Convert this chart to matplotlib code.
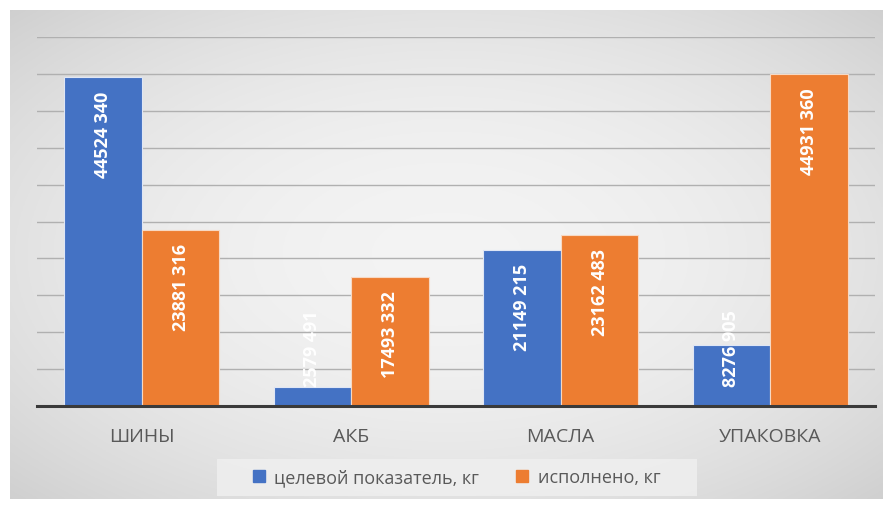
import numpy as np
import matplotlib
matplotlib.use("Agg")
import matplotlib.pyplot as plt
from matplotlib.lines import Line2D
from matplotlib.patches import Rectangle

plt.rcParams["font.family"] = ["Open Sans", "DejaVu Sans"]

# данные
categories = ["ШИНЫ", "АКБ", "МАСЛА", "УПАКОВКА"]
target = [44524340, 2579491, 21149215, 8276905]
done = [23881316, 17493332, 23162483, 44931360]
series_names = ["целевой показатель, кг", "исполнено, кг"]
colors = ["#4472C4", "#ED7D31"]

W, H = 891, 510
fig = plt.figure(figsize=(W / 100, H / 100), dpi=100)
fig.patch.set_facecolor("white")

# серый фон с радиальным градиентом
bg = fig.add_axes([10 / W, 10 / H, 873 / W, 489 / H])
xx, yy = np.meshgrid(np.linspace(-1, 1, 400), np.linspace(-1, 1, 300))
r = np.sqrt(xx ** 2 + yy ** 2) / np.sqrt(2)
shade = 0.955 - 0.14 * r ** 2
bg.imshow(np.dstack([shade] * 3), aspect="auto", extent=[0, 1, 0, 1])
bg.axis("off")

ax = fig.add_axes([37 / W, (H - 407) / H, (875 - 37) / W, (407 - 38) / H])
ax.set_facecolor("none")

x = np.arange(len(categories))
bw = 0.37
for i, (vals, c) in enumerate(zip([target, done], colors)):
    pos = x + (i - 0.5) * bw
    ax.bar(pos, vals, width=bw, color=c, edgecolor="#dfe6f5" if i == 0 else "#f7d9c4",
           linewidth=0.8, zorder=3)
    for xp, v in zip(pos, vals):
        txt = f"{v // 1000} {v % 1000:03d}"
        if v > 15e6:
            ax.text(xp, v - 1.75e6, txt, rotation=90, ha="center", va="top",
                    color="white", fontsize=13, fontweight="bold", zorder=4)
        else:
            ax.text(xp, 2.7e6, txt, rotation=90, ha="center", va="bottom",
                    color="white", fontsize=13, fontweight="bold", zorder=4)

ax.set_xlim(-0.5, len(categories) - 0.5)
ax.set_ylim(0, 50e6)
ax.set_yticks(np.arange(0, 50e6 + 1, 5e6))
ax.yaxis.grid(True, color="#b0b0b0", linewidth=1.0, zorder=0)
ax.tick_params(axis="y", left=False, labelleft=False)
ax.set_xticks(x)
ax.set_xticklabels(categories, fontsize=14, color="#595959")
ax.tick_params(axis="x", length=0, pad=15)
for s in ["top", "right", "left"]:
    ax.spines[s].set_visible(False)
ax.spines["bottom"].set_color("#3a3a3a")
ax.spines["bottom"].set_linewidth(2.2)
ax.spines["bottom"].set_zorder(5)

# подложка легенды
fig.patches.append(Rectangle((217 / W, 1 - 497 / H), 480 / W, 37 / H, transform=fig.transFigure,
                             facecolor="#f0f0f0", edgecolor="none", alpha=0.8, zorder=1))

handles = [Line2D([], [], marker="s", linestyle="none", markersize=8, color=c) for c in colors]
leg = fig.legend(handles, series_names, loc="center", bbox_to_anchor=(455 / W, 1 - 478 / H),
                 ncol=2, fontsize=13, frameon=False, handletextpad=0.35,
                 columnspacing=1.9, handlelength=1.0)
for t in leg.get_texts():
    t.set_color("#595959")

fig.savefig("out.png", dpi=100)
